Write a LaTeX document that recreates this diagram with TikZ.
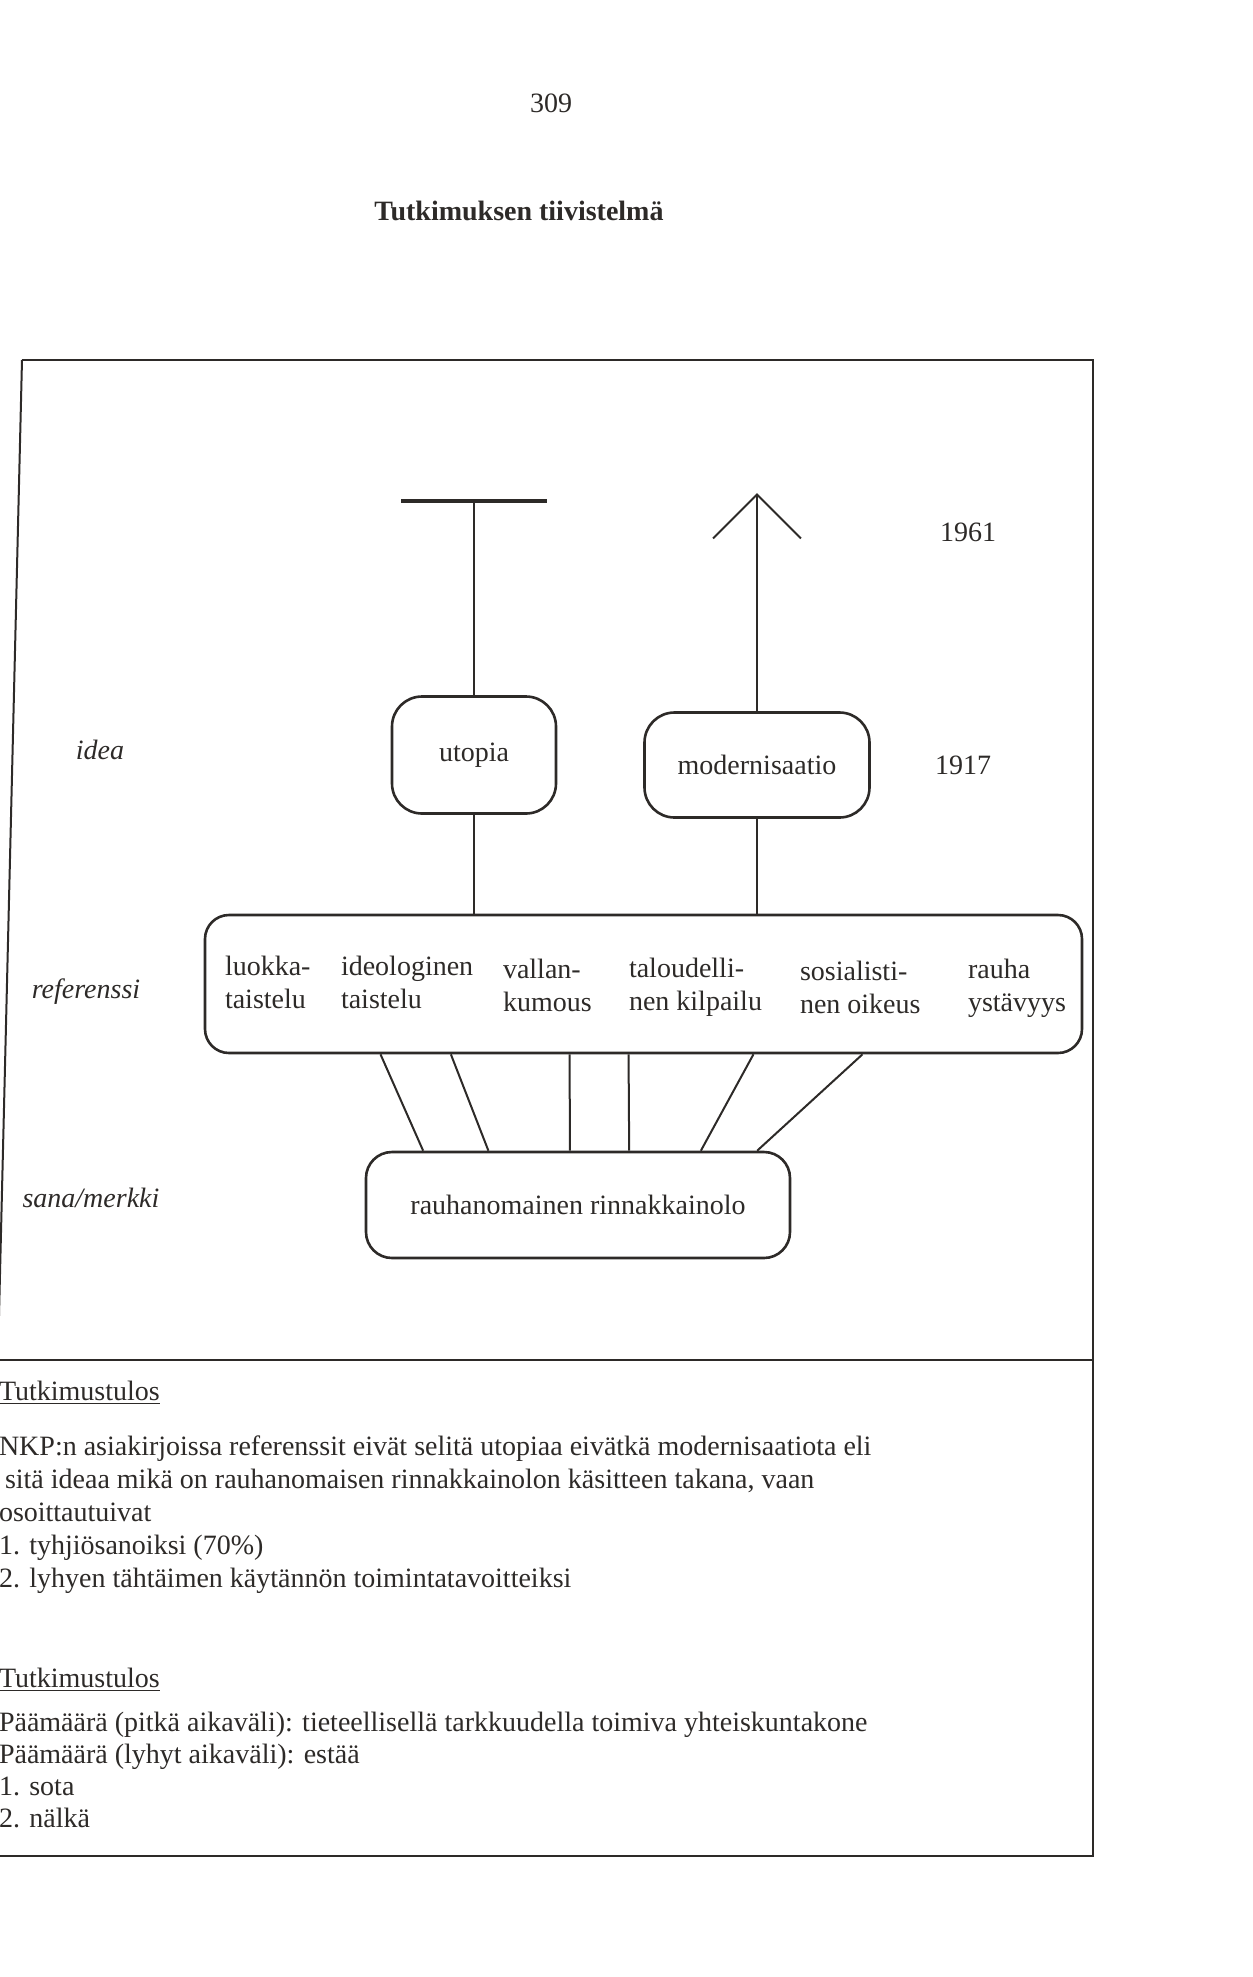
\documentclass[tikz,border=0pt]{standalone}
\usepackage{fontspec}
\setmainfont{Liberation Serif}
\usetikzlibrary{arrows.meta,positioning,calc}
\definecolor{inkgray}{RGB}{45,42,40}

\begin{document}
\begin{tikzpicture}[x=0.5pt, y=-0.5pt, line width=1pt, color=inkgray,
  every node/.style={font=\fontsize{14}{16.5}\selectfont, inner sep=0pt},
  ideabox/.style={draw, line width=1.3pt, rounded corners=15pt, align=center},
  wordlist/.style={anchor=west, align=left},
  levellabel/.style={font=\fontsize{14}{16.5}\selectfont\itshape}]
\useasboundingbox (0,0) rectangle (1253,1977);

% page head
\node (pageno) at (551,103) {309};
\node[font=\fontsize{14}{16.5}\selectfont\bfseries] (title) at (519,211) {Tutkimuksen tiivistelmä};

% frame
\draw (22,360) -- (1093,360) -- (1093,1856) -- (-14,1856);
\draw (22,360) -- (-14,1856);
\draw (-14,1360) -- (1093,1360);

% idea level
\node[ideabox, minimum width=82pt, minimum height=58.5pt] (utopia) at (474,755) {utopia};
\node[ideabox, minimum width=112.5pt, minimum height=52.5pt] (modern) at (757,765) {modernisaatio};
\coordinate (ubar) at (474,499);
\coordinate (mtip) at (757,493);
\draw[-{Bar[width=73pt,line width'=2pt]}] (utopia.north) -- (utopia.north |- ubar);
\draw[-{Straight Barb[length=22pt,width=44pt]}] (modern.north) -- (modern.north |- mtip);
\node (y1961) at (968,532) {1961};
\node (y1917) at (963,765) {1917};

% referenssi level
\node[ideabox, rounded corners=12pt, minimum width=438.5pt, minimum height=69pt] (ref) at (643.5,984) {};
\node[wordlist] (luokka) at (224,982) {luokka-\\taistelu};
\node[wordlist] (ideol) at (340,982) {ideologinen\\taistelu};
\node[wordlist] (vallan) at (502,985) {vallan-\\kumous};
\node[wordlist] (talous) at (628,987) {taloudelli-\\nen kilpailu};
\node[wordlist] (sosial) at (799,987) {sosialisti-\\nen oikeus};
\node[wordlist] (rauhays) at (967,988) {rauha\\ystävyys};
\draw (utopia.south) -- (utopia.south |- ref.north);
\draw (modern.south) -- (modern.south |- ref.north);

% sana/merkki level
\node[ideabox, rounded corners=13pt, minimum width=212pt, minimum height=53pt] (rauha) at (578,1205) {rauhanomainen rinnakkainolo};
\draw ($(ref.south west)!0.201!(ref.south east)$) -- ($(rauha.north west)!0.137!(rauha.north east)$);
\draw ($(ref.south west)!0.281!(ref.south east)$) -- ($(rauha.north west)!0.290!(rauha.north east)$);
\draw ($(ref.south west)!0.416!(ref.south east)$) -- ($(rauha.north west)!0.481!(rauha.north east)$);
\draw ($(ref.south west)!0.483!(ref.south east)$) -- ($(rauha.north west)!0.620!(rauha.north east)$);
\draw ($(ref.south west)!0.625!(ref.south east)$) -- ($(rauha.north west)!0.788!(rauha.north east)$);
\draw ($(ref.south west)!0.749!(ref.south east)$) -- ($(rauha.north west)!0.920!(rauha.north east)$);

\node[levellabel] (idea) at (100,750) {idea};
\node[levellabel] (referenssi) at (86,992) {referenssi};
\node[levellabel] (sana) at (91,1198) {sana/merkki};

% results
\node[anchor=west] (head1) at (-2,1393) {\underline{Tutkimustulos}};
\node[anchor=west, align=left] (res1) at (-2,1515) {NKP:n asiakirjoissa referenssit eivät selitä utopiaa eivätkä modernisaatiota eli\\
\hspace{3pt}sitä ideaa mikä on rauhanomaisen rinnakkainolon käsitteen takana, vaan\\
osoittautuivat\\
1. tyhjiösanoiksi (70\%)\\
2. lyhyen tähtäimen käytännön toimintatavoitteiksi};
\node[anchor=west] (head2) at (-2,1680) {\underline{Tutkimustulos}};
\node[anchor=west, align=left, font=\fontsize{14}{16}\selectfont] (res2) at (-2,1770) {Päämäärä (pitkä aikaväli): tieteellisellä tarkkuudella toimiva yhteiskuntakone\\
Päämäärä (lyhyt aikaväli): estää\\
1. sota\\
2. nälkä};
\end{tikzpicture}
\end{document}
